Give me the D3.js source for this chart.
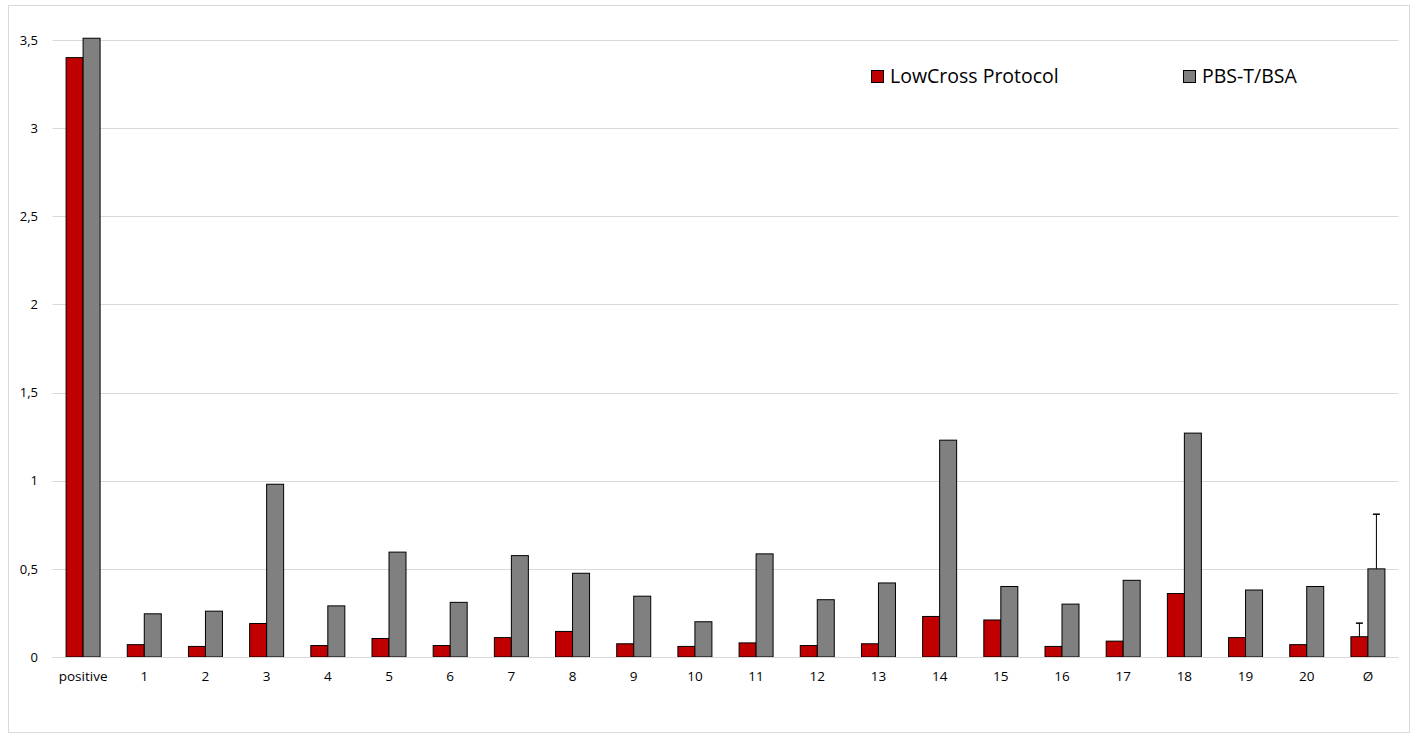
<!DOCTYPE html>
<html>
<head>
<meta charset="utf-8">
<script src="https://cdn.jsdelivr.net/npm/d3@7"></script>
<style>
  body { margin: 0; background: #fff; }
  text { font-family: "Open Sans", "Noto Sans", sans-serif; fill: #000; }
</style>
</head>
<body>
<div id="grafico"></div>
<script>
// Dados
const categorias = ["positive", "1", "2", "3", "4", "5", "6", "7", "8", "9", "10",
  "11", "12", "13", "14", "15", "16", "17", "18", "19", "20", "Ø"];
const lowCross = [3.40, 0.07, 0.06, 0.19, 0.065, 0.105, 0.065, 0.11, 0.145, 0.075, 0.06,
  0.08, 0.065, 0.075, 0.23, 0.21, 0.06, 0.09, 0.36, 0.11, 0.07, 0.115];
const pbsBsa = [3.51, 0.245, 0.26, 0.98, 0.29, 0.595, 0.31, 0.575, 0.475, 0.345, 0.20,
  0.585, 0.325, 0.42, 1.23, 0.40, 0.30, 0.435, 1.27, 0.38, 0.40, 0.50];
// barras de erro (só para Ø)
const erroLowCross = [0, 0, 0, 0, 0, 0, 0, 0, 0, 0, 0, 0, 0, 0, 0, 0, 0, 0, 0, 0, 0, 0.077];
const erroPbs = [0, 0, 0, 0, 0, 0, 0, 0, 0, 0, 0, 0, 0, 0, 0, 0, 0, 0, 0, 0, 0, 0.31];
const ticksY = [0, 0.5, 1, 1.5, 2, 2.5, 3, 3.5];
const series = [
  { nome: "LowCross Protocol", valores: lowCross, erros: erroLowCross, cor: "#c00000" },
  { nome: "PBS-T/BSA", valores: pbsBsa, erros: erroPbs, cor: "#808080" }
];

const W = 1418, H = 738;
const x0 = 52.5, x1 = 1398.5;

const svg = d3.select("#grafico").append("svg")
  .attr("width", W).attr("height", H);

// moldura do gráfico
svg.append("rect")
  .attr("x", 8.5).attr("y", 5.5).attr("width", 1401).attr("height", 727)
  .attr("fill", "#fff").attr("stroke", "#d9d9d9");

const x = d3.scaleBand().domain(categorias).range([x0, x1]);
const y = d3.scaleLinear().domain([0, 3.5]).range([657, 40]);

// linhas de grade
svg.append("g").selectAll("line").data(ticksY).join("line")
  .attr("x1", x0).attr("x2", x1)
  .attr("y1", d => Math.round(y(d)) + 0.5).attr("y2", d => Math.round(y(d)) + 0.5)
  .attr("stroke", "#d9d9d9").attr("stroke-width", 1);

// eixo Y
const eixoY = svg.append("g")
  .attr("transform", "translate(38,0)")
  .call(d3.axisLeft(y).tickValues(ticksY).tickSize(0).tickPadding(0)
    .tickFormat(d => String(d).replace(".", ",")));
eixoY.select(".domain").remove();
eixoY.selectAll("text").style("font-size", "13px").style("font-family", null);

// eixo X
const eixoX = svg.append("g")
  .attr("transform", "translate(0,657)")
  .call(d3.axisBottom(x).tickSize(0).tickPadding(14));
eixoX.select(".domain").remove();
eixoX.selectAll("text").style("font-size", "13.5px").style("font-family", null);

const barW = 17;
series.forEach((s, i) => {
  const g = svg.append("g");
  g.selectAll("rect").data(categorias).join("rect")
    .attr("x", d => x(d) + x.bandwidth() / 2 - barW + i * barW)
    .attr("y", (d, j) => y(s.valores[j]))
    .attr("width", barW)
    .attr("height", (d, j) => y(0) - y(s.valores[j]))
    .attr("fill", s.cor)
    .attr("stroke", "#000").attr("stroke-width", 1);

  // barras de erro positivas
  categorias.forEach((c, j) => {
    if (!s.erros[j]) return;
    const cx = x(c) + x.bandwidth() / 2 - barW / 2 + i * barW;
    const topo = y(s.valores[j] + s.erros[j]);
    g.append("line").attr("x1", cx).attr("x2", cx)
      .attr("y1", y(s.valores[j])).attr("y2", topo)
      .attr("stroke", "#000").attr("stroke-width", 1);
    g.append("line").attr("x1", cx - 3.5).attr("x2", cx + 3.5)
      .attr("y1", topo).attr("y2", topo)
      .attr("stroke", "#000").attr("stroke-width", 1.5);
  });
});

// linha de base
svg.append("line").attr("x1", x0).attr("x2", x1)
  .attr("y1", 657.5).attr("y2", 657.5).attr("stroke", "#d9d9d9");

// legenda
const legX = [871, 1183];
series.forEach((s, i) => {
  const lg = svg.append("g").attr("transform", `translate(${legX[i]},70)`);
  lg.append("rect").attr("x", 0.5).attr("y", 0.5).attr("width", 12).attr("height", 12)
    .attr("fill", s.cor).attr("stroke", "#000");
  lg.append("text").attr("x", 19).attr("y", 13)
    .style("font-size", "19.5px").text(s.nome);
});
</script>
</body>
</html>
